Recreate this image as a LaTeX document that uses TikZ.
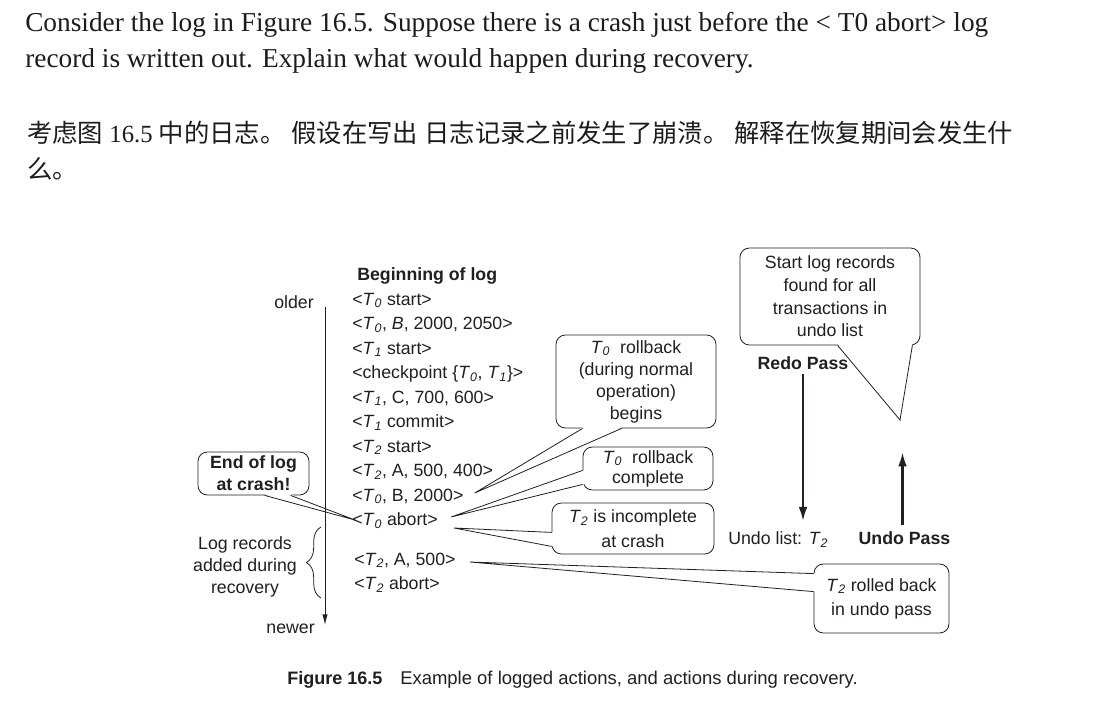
\documentclass[tikz,border=0pt]{standalone}
\usepackage{fontspec}
\setmainfont{Liberation Serif}
\setsansfont{Liberation Sans}
\newfontfamily\cjk{Noto Sans CJK SC}
\usetikzlibrary{arrows.meta,calc,decorations.pathreplacing}
\definecolor{ink}{HTML}{231F20}
\definecolor{qtext}{HTML}{1C1C1C}
\newcommand\Tx[1]{\textit{T}\textsubscript{\textit{#1}}}
\newcommand\zh[1]{{\cjk\fontsize{19pt}{22pt}\selectfont #1}}
\newcommand\dfont{\sffamily\fontsize{13.3pt}{16pt}\selectfont}
\newcommand\wedgeto[4]{%
  \fill[white] ($(#1)+#4$) -- ($(#1)!0.15!(#3)$) -- ($(#2)!0.15!(#3)$) -- ($(#2)+#4$) -- cycle;
  \draw[wedgeline] (#1) -- (#3) -- (#2);}
\tikzset{
  rec/.style={anchor=base west, inner sep=0pt, font=\dfont, text=ink},
  lbl/.style={inner sep=0pt, font=\dfont, text=ink},
  bubble/.style={draw=ink, line width=0.6pt, rounded corners=7pt, fill=white, align=center, inner sep=0pt, text=ink},
  wedgeline/.style={draw=ink, line width=0.6pt, line join=miter},
  passarrow/.style={draw=ink, line width=1.6pt, -{Latex[length=10.5pt,width=6.5pt]}},
  logarrow/.style={draw=ink, line width=0.7pt, -{Latex[length=8pt,width=4pt]}},
  qline/.style={anchor=base west, inner sep=0pt, text=qtext, font=\fontsize{20.5pt}{24pt}\selectfont},
}
\begin{document}
\begin{tikzpicture}[x=0.75pt,y=-0.75pt]
\useasboundingbox (0,0) rectangle (1095,700);
\fill[white] (0,0) rectangle (1095,700);

% question text
\node[qline] (q1) at (25,31) {Consider the log in Figure 16.5. Suppose there is a crash just before the < T0 abort> log};
\node[qline] (q2) at (25,67) {record is written out. Explain what would happen during recovery.};
\node[qline, font=\fontsize{18.5pt}{22pt}\selectfont] (c1) at (27,142) {\zh{考虑图} 16.5 \zh{中的日志。} \zh{假设在写出} \zh{日志记录之前发生了崩溃。} \zh{解释在恢复期间会发生什}};
\node[qline, font=\fontsize{18.5pt}{22pt}\selectfont] (c2) at (27,178) {\zh{么。}};

% log records
\node[rec, font=\bfseries\dfont] (r0) at (357,280) {Beginning of log};
\node[rec] (r1) at (352,305) {<\Tx{0} start>};
\node[rec] (r2) at (352,329.5) {<\Tx{0}, \textit{B}, 2000, 2050>};
\node[rec] (r3) at (352,354) {<\Tx{1} start>};
\node[rec] (r4) at (352,378.5) {<checkpoint \{\Tx{0}, \Tx{1}\}>};
\node[rec] (r5) at (352,403) {<\Tx{1}, C, 700, 600>};
\node[rec] (r6) at (352,427.5) {<\Tx{1} commit>};
\node[rec] (r7) at (352,452) {<\Tx{2} start>};
\node[rec] (r8) at (352,476.5) {<\Tx{2}, A, 500, 400>};
\node[rec] (r9) at (352,501) {<\Tx{0}, B, 2000>};
\node[rec] (r10) at (352,525.5) {<\Tx{0} abort>};
\node[rec] (r11) at (354,565) {<\Tx{2}, A, 500>};
\node[rec] (r12) at (354,589.5) {<\Tx{2} abort>};

% bubbles
\node[bubble, minimum width=120pt, minimum height=69.75pt, font=\sffamily\fontsize{13.3pt}{16.5pt}\selectfont] (cA) at (636,381.5) {\Tx{0}\ \ rollback\\(during normal\\operation)\\begins};
\coordinate (A1) at ($(cA.south west)+(27,0)$);
\coordinate (A2) at ($(cA.south west)+(66,0)$);
\coordinate (At) at ($(r9.base east)+(11,-8)$);
\wedgeto{A1}{A2}{At}{(0,-1.2)}

\node[bubble, minimum width=97.5pt, minimum height=32.25pt, font=\sffamily\fontsize{13.3pt}{15pt}\selectfont] (cB) at (648,468.5) {\Tx{0}\ \ rollback\\complete};
\coordinate (B1) at ($(cB.south west)+(0,-20)$);
\coordinate (B2) at ($(cB.south west)+(0,-6)$);
\coordinate (Bt) at ($(r10.base east)+(13,-8.5)$);
\wedgeto{B1}{B2}{Bt}{(1.2,0)}

\node[bubble, minimum width=121.5pt, minimum height=38.25pt, font=\sffamily\fontsize{13.3pt}{18.5pt}\selectfont] (cC) at (633,528.5) {\Tx{2} is incomplete\\at crash};
\coordinate (C1) at ($(cC.south west)+(0,-22)$);
\coordinate (C2) at ($(cC.south west)+(0,-8)$);
\coordinate (Ct) at ($(r10.base east)+(16,2.5)$);
\wedgeto{C1}{C2}{Ct}{(1.2,0)}

\node[bubble, minimum width=101.25pt, minimum height=51.75pt, font=\sffamily\fontsize{13.3pt}{18pt}\selectfont] (cD) at (881.5,598.5) {\Tx{2} rolled back\\in undo pass};
\coordinate (D1) at ($(cD.north west)+(0,10)$);
\coordinate (D2) at ($(cD.north west)+(0,28)$);
\coordinate (Dt) at ($(r11.base east)+(14,-3)$);
\wedgeto{D1}{D2}{Dt}{(1.2,0)}

\node[bubble, minimum width=135pt, minimum height=72.75pt, font=\sffamily\fontsize{13.3pt}{17pt}\selectfont] (cS) at (830,296.5) {Start log records\\found for all\\transactions in\\undo list};
\coordinate (S1) at ($(cS.south west)+(98,0)$);
\coordinate (S2) at ($(cS.south east)+(-8,0)$);
\coordinate (St) at (900,420);
\wedgeto{S1}{S2}{St}{(0,-1.2)}

\node[bubble, minimum width=83.25pt, minimum height=32.25pt, font=\sffamily\bfseries\fontsize{13.3pt}{16.5pt}\selectfont] (cE) at (253.5,473.5) {End of log\\at crash!};
\coordinate (E1) at ($(cE.south west)+(67,0)$);
\coordinate (E2) at ($(cE.south west)+(93,0)$);
\coordinate (Et) at ($(r10.base west)+(3,-5.5)$);
\wedgeto{E1}{E2}{Et}{(0,-1.2)}

% time axis
\node[lbl, anchor=base east] (older) at (314,308) {older};
\node[lbl, anchor=base east] (newer) at (315,633) {newer};
\coordinate (logtop) at (325,307);
\coordinate (logend) at (325,625);
\draw[logarrow] (logtop) -- (logend);

% brace
\draw[ink, line width=0.6pt, decorate, decoration={brace, amplitude=11pt}] (321,598) -- (321,527);
\node[lbl, align=center, font=\sffamily\fontsize{13.3pt}{16.5pt}\selectfont] (addl) at (245,567) {Log records\\added during\\recovery};

% passes
\node[lbl, anchor=base, font=\bfseries\dfont] (redo) at (803,369.5) {Redo Pass};
\draw[passarrow] ($(redo.south)+(0,4)$) -- ($(redo.south)+(0,151)$);
\node[lbl, anchor=base west] (ulist) at (728,544.5) {Undo list: \Tx{2}};
\node[lbl, anchor=base, font=\bfseries\dfont] (undo) at (904.5,544.5) {Undo Pass};
\draw[passarrow] ($(undo.north)+(-2,-6)$) -- ($(undo.north)+(-2,-79)$);

% caption
\node[anchor=base west, inner sep=0pt, text=ink, font=\sffamily\bfseries\fontsize{13.5pt}{16pt}\selectfont] (capA) at (287,684) {Figure 16.5};
\node[anchor=base west, inner sep=0pt, text=ink, font=\sffamily\fontsize{13.85pt}{16pt}\selectfont] (capB) at (400,684) {Example of logged actions, and actions during recovery.};
\end{tikzpicture}
\end{document}
